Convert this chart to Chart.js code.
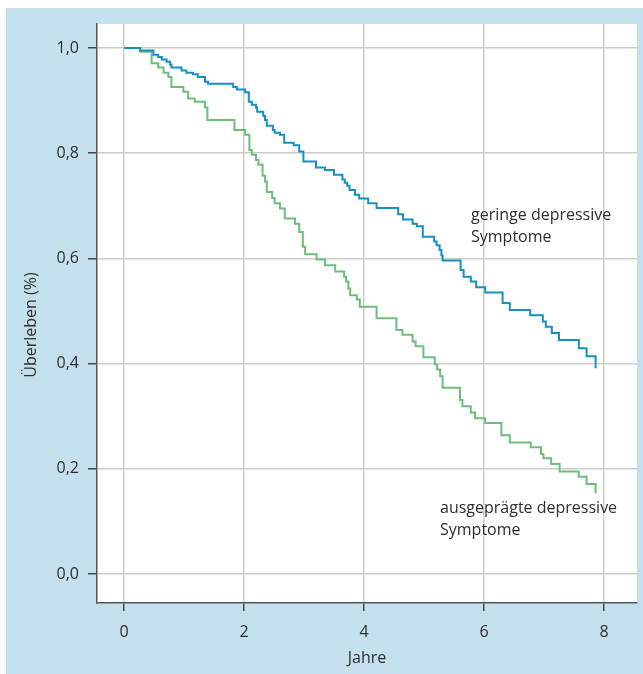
<!DOCTYPE html>
<html>
<head>
<meta charset="utf-8">
<script src="https://cdn.jsdelivr.net/npm/chart.js@4.4.1/dist/chart.umd.min.js"></script>
<style>
  body { margin: 0; background: #fff; }
  canvas { display: block; }
</style>
</head>
<body>
<canvas id="chart" width="643" height="674"></canvas>
<script>
// Kaplan-Meier Kurven
const geringeJahre = [0, 0.27, 0.49, 0.57, 0.63, 0.71, 0.77, 0.79, 0.96, 1.04, 1.15, 1.23, 1.35, 1.40,
  1.82, 1.88, 2.02, 2.08, 2.13, 2.20, 2.22, 2.32, 2.35, 2.38, 2.48, 2.51, 2.60, 2.67, 2.83, 2.92, 2.99,
  3.20, 3.35, 3.50, 3.64, 3.68, 3.72, 3.76, 3.85, 3.92, 4.07, 4.21, 4.57, 4.65, 4.81, 4.88, 4.98,
  5.17, 5.21, 5.26, 5.29, 5.31, 5.61, 5.66, 5.78, 5.87, 6.02, 6.31, 6.43, 6.77, 6.98, 7.03, 7.13,
  7.25, 7.58, 7.71, 7.86];
const geringeUeberleben = [1.0, 0.995, 0.987, 0.983, 0.978, 0.974, 0.968, 0.963, 0.957, 0.953, 0.950, 0.945, 0.936, 0.932,
  0.926, 0.921, 0.916, 0.898, 0.892, 0.887, 0.879, 0.871, 0.863, 0.852, 0.844, 0.839, 0.835, 0.820, 0.815, 0.803, 0.784,
  0.773, 0.768, 0.759, 0.750, 0.744, 0.738, 0.730, 0.721, 0.714, 0.705, 0.696, 0.684, 0.674, 0.666, 0.661, 0.641,
  0.632, 0.625, 0.616, 0.606, 0.596, 0.578, 0.565, 0.556, 0.545, 0.535, 0.515, 0.502, 0.492, 0.480, 0.470, 0.458,
  0.445, 0.429, 0.414, 0.391];

const ausgepraegteJahre = [0, 0.27, 0.46, 0.57, 0.66, 0.74, 0.79, 0.99, 1.07, 1.18, 1.35, 1.39, 1.84,
  2.02, 2.09, 2.13, 2.20, 2.24, 2.31, 2.35, 2.38, 2.47, 2.51, 2.60, 2.68, 2.85, 2.92, 2.98,
  3.02, 3.21, 3.35, 3.52, 3.67, 3.70, 3.74, 3.77, 3.88, 3.93, 4.21, 4.54, 4.64, 4.81, 4.86, 4.99,
  5.18, 5.22, 5.27, 5.31, 5.60, 5.64, 5.78, 5.85, 6.02, 6.29, 6.43, 6.78, 6.95, 6.99, 7.12, 7.26,
  7.58, 7.71, 7.86];
const ausgepraegteUeberleben = [1.0, 0.993, 0.971, 0.963, 0.953, 0.945, 0.926, 0.917, 0.904, 0.898, 0.887, 0.863, 0.844,
  0.835, 0.806, 0.797, 0.787, 0.778, 0.757, 0.746, 0.726, 0.715, 0.705, 0.695, 0.676, 0.666, 0.650, 0.622,
  0.608, 0.598, 0.587, 0.575, 0.565, 0.556, 0.543, 0.530, 0.522, 0.508, 0.486, 0.464, 0.455, 0.442, 0.433, 0.412,
  0.399, 0.389, 0.376, 0.354, 0.331, 0.319, 0.307, 0.296, 0.287, 0.264, 0.250, 0.241, 0.228, 0.220, 0.209, 0.195,
  0.185, 0.171, 0.153];

const xTicks = [0, 2, 4, 6, 8];
const yTicks = [0, 0.2, 0.4, 0.6, 0.8, 1.0];

const blau = '#1590c3';
const gruen = '#6cbf7a';
const hellblau = '#c4e0ef';
const schrift = '#2e2e2e';
const fontFam = '"Open Sans", "Noto Sans", sans-serif';

function punkte(jahre, werte) {
  return jahre.map((t, i) => ({ x: t, y: werte[i] }));
}

// Hintergrund: blauer Rahmen, weisse Plotflaeche
const hintergrund = {
  id: 'hintergrund',
  beforeDraw(chart) {
    const ctx = chart.ctx;
    const a = chart.chartArea;
    ctx.save();
    ctx.fillStyle = '#ffffff';
    ctx.fillRect(0, 0, chart.width, chart.height);
    ctx.fillStyle = hellblau;
    ctx.fillRect(6, 8, chart.width - 6, chart.height - 8);
    ctx.fillStyle = '#ffffff';
    ctx.fillRect(a.left, a.top, a.right - a.left, a.bottom - a.top);
    ctx.restore();
  }
};

// Achsentitel und Kurvenbeschriftungen
const beschriftung = {
  id: 'beschriftung',
  afterDraw(chart) {
    const ctx = chart.ctx;
    const a = chart.chartArea;
    ctx.save();
    ctx.fillStyle = schrift;
    ctx.font = '16px ' + fontFam;
    ctx.textBaseline = 'middle';

    ctx.textAlign = 'center';
    ctx.fillText('Jahre', (a.left + a.right) / 2, 658);

    ctx.save();
    ctx.translate(31, 325);
    ctx.rotate(-Math.PI / 2);
    ctx.fillText('Überleben (%)', 0, 0);
    ctx.restore();

    ctx.textAlign = 'left';
    ctx.fillText('geringe depressive', 471, 215);
    ctx.fillText('Symptome', 471, 237);
    ctx.fillText('ausgeprägte depressive', 440, 508);
    ctx.fillText('Symptome', 440, 530);
    ctx.restore();
  }
};

new Chart(document.getElementById('chart').getContext('2d'), {
  type: 'line',
  data: {
    datasets: [
      {
        label: 'geringe depressive Symptome',
        data: punkte(geringeJahre, geringeUeberleben),
        borderColor: blau,
        borderWidth: 2,
        stepped: 'before',
        pointRadius: 0,
        fill: false
      },
      {
        label: 'ausgeprägte depressive Symptome',
        data: punkte(ausgepraegteJahre, ausgepraegteUeberleben),
        borderColor: gruen,
        borderWidth: 2,
        stepped: 'before',
        pointRadius: 0,
        fill: false
      }
    ]
  },
  options: {
    responsive: false,
    animation: false,
    layout: { padding: { top: 24, right: 6, left: 0, bottom: 0 } },
    plugins: {
      legend: { display: false },
      tooltip: { enabled: false }
    },
    scales: {
      x: {
        type: 'linear',
        min: -0.45,
        max: 8.55,
        afterBuildTicks: (scale) => { scale.ticks = xTicks.map(v => ({ value: v })); },
        afterFit: (scale) => { scale.height = 71; },
        grid: { color: '#cccccc', lineWidth: 1.5, tickLength: 8, tickColor: '#444', tickWidth: 1.5 },
        border: { color: '#555555', width: 1.5 },
        ticks: {
          padding: 12,
          color: schrift,
          font: { family: fontFam, size: 16 },
          callback: (v) => String(v)
        }
      },
      y: {
        type: 'linear',
        min: -0.0551,
        max: 1.0456,
        afterBuildTicks: (scale) => { scale.ticks = yTicks.map(v => ({ value: v })); },
        afterFit: (scale) => { scale.width = 97; },
        grid: { color: '#cccccc', lineWidth: 1.5, tickLength: 9, tickColor: '#444', tickWidth: 1.5 },
        border: { color: '#555555', width: 1.5 },
        ticks: {
          padding: 9,
          color: schrift,
          font: { family: fontFam, size: 16 },
          callback: (v) => v.toFixed(1).replace('.', ',')
        }
      }
    }
  },
  plugins: [hintergrund, beschriftung]
});
</script>
</body>
</html>
